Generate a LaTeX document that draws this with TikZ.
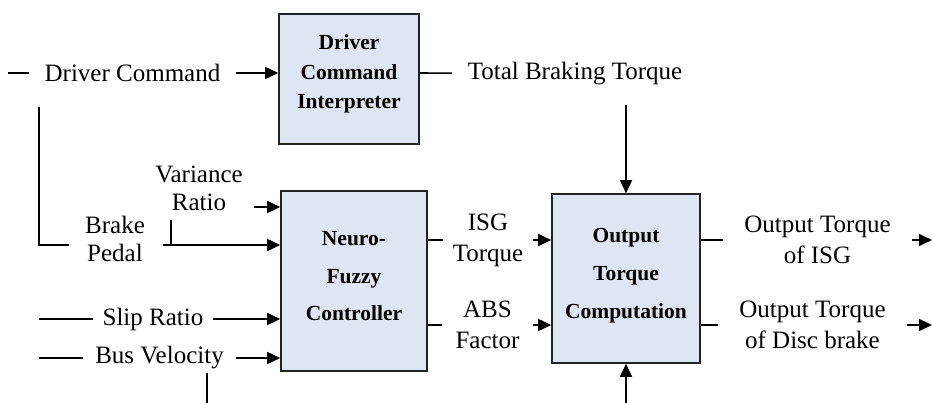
\documentclass[tikz,border=0pt]{standalone}
\usepackage{fontspec}
\setmainfont{Liberation Serif}
\definecolor{boxblue}{RGB}{221,230,242}
\definecolor{boxline}{RGB}{35,35,35}
\usetikzlibrary{arrows.meta}

\begin{document}
\begin{tikzpicture}[x=1pt,y=-1pt,
  blk/.style={draw=boxline,fill=boxblue,line width=1.6pt,align=center},
  lbl/.style={align=center,inner xsep=0pt,font=\fontsize{25}{31}\selectfont},
  ln/.style={line width=1.6pt},
  arr/.style={line width=1.6pt,-{Triangle[length=13pt,width=12pt]}}]
  \useasboundingbox (0,0) rectangle (932,403);

  \node[blk,minimum width=140pt,minimum height=130pt,text depth=14pt,
        font=\fontsize{21.5}{29.5}\selectfont\bfseries]
        (b1) at (349,79) {Driver\\Command\\Interpreter};
  \node[blk,minimum width=146pt,minimum height=180pt,text depth=10pt,
        font=\fontsize{21.5}{37.5}\selectfont\bfseries]
        (b2) at (354,281) {Neuro-\\Fuzzy\\Controller};
  \node[blk,minimum width=148pt,minimum height=169pt,text depth=11pt,
        font=\fontsize{21.5}{38}\selectfont\bfseries]
        (b3) at (626,278.5) {Output\\Torque\\Computation};

  \node[lbl,minimum width=207pt] (drv) at (132.5,73) {Driver Command};
  \node[lbl,minimum width=246pt] (tbt) at (575,74) {Total Braking Torque};
  \node[lbl,font=\fontsize{25}{28}\selectfont] (vr) at (199,188) {Variance\\Ratio};
  \node[lbl,font=\fontsize{25}{28}\selectfont] (bp) at (115,239) {Brake\\Pedal};
  \node[lbl,minimum width=120pt] (sr) at (153,319) {Slip Ratio};
  \node[lbl,minimum width=153pt] (bv) at (159.5,358) {Bus Velocity};
  \node[lbl,minimum width=90pt] (isg) at (488,240) {ISG\\Torque};
  \node[lbl,minimum width=90pt] (abs) at (487.5,325) {ABS\\Factor};
  \node[lbl,minimum width=189pt] (oisg) at (817.5,240) {Output Torque\\of ISG};
  \node[lbl,minimum width=189pt] (odb) at (812.5,325) {Output Torque\\of Disc brake};

  \coordinate (drvin) at (8,73);
  \coordinate (dcdown) at (39,107);
  \coordinate (bpL) at (69,245);
  \coordinate (bpR) at (163,245);
  \coordinate (vrtick) at (171,220);
  \coordinate (vrarr) at (254,207);
  \coordinate (srin) at (39,319);
  \coordinate (bvin) at (39,358);
  \coordinate (bvdown) at (207,373);
  \coordinate (tbtdown) at (627,105);
  \coordinate (oisgend) at (932,240);
  \coordinate (odbend) at (932,325);
  \coordinate (b3up) at (626,403);
  \coordinate (bvend) at (207,403);

  \draw[ln] (drvin) -- (drv);
  \draw[arr] (drv) -- (drv -| b1.west);
  \draw[ln] (drv -| b1.east) -- (tbt);
  \draw[arr] (tbtdown -| b3.north) -- (b3.north);
  \draw[ln] (dcdown) |- (bpL);
  \draw[arr] (bpR) -- (bpR -| b2.west);
  \draw[ln] (vrtick) -- (vrtick |- bpR);
  \draw[arr] (vrarr) -- (vrarr -| b2.west);
  \draw[ln] (srin) -- (sr);
  \draw[arr] (sr) -- (sr -| b2.west);
  \draw[ln] (bvin) -- (bv);
  \draw[arr] (bv) -- (bv -| b2.west);
  \draw[ln] (bvdown) -- (bvend);
  \draw[ln] (b2.east |- isg) -- (isg);
  \draw[arr] (isg) -- (isg -| b3.west);
  \draw[ln] (b2.east |- abs) -- (abs);
  \draw[arr] (abs) -- (abs -| b3.west);
  \draw[ln] (b3.east |- oisg) -- (oisg);
  \draw[arr] (oisg) -- (oisgend);
  \draw[ln] (b3.east |- odb) -- (odb);
  \draw[arr] (odb) -- (odbend);
  \draw[arr] (b3up) -- (b3.south);
\end{tikzpicture}
\end{document}
